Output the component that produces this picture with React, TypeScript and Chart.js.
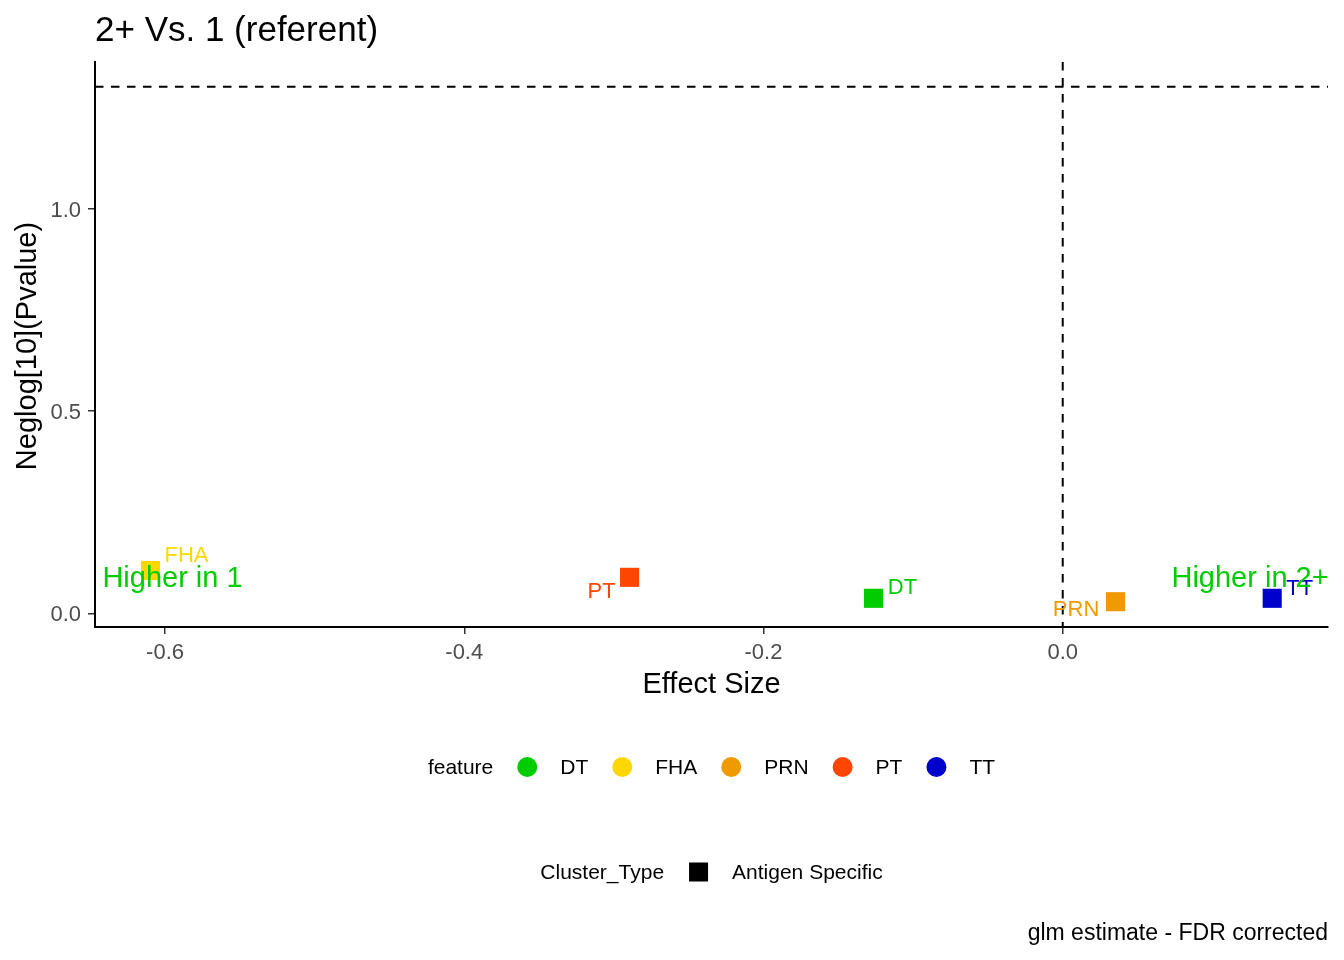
import React, { useEffect, useRef } from 'react';
import { Chart, registerables } from 'chart.js';

Chart.register(...registerables);

// data
const features = ['DT', 'FHA', 'PRN', 'PT', 'TT'];
const featureColors = ['#00CD00', '#FFD700', '#EE9A00', '#FF4500', '#0000CD'];
const effectSize = [-0.1265, -0.6097, 0.0353, -0.2895, 0.14];
const negLogP = [0.0371, 0.1057, 0.0287, 0.0889, 0.0371];
const xTicks = [-0.6, -0.4, -0.2, 0.0];
const yTicks = [0.0, 0.5, 1.0];
const sigThreshold = -Math.log10(0.05);
const directionNotes = ['Higher in 1', 'Higher in 2+'];
const directionNoteX = [-0.595, 0.1252];
const directionNoteY = [0.085, 0.085];
const clusterTypes = ['Antigen Specific'];

// styling: label offsets (px) from each point, in features order
const labelOffsets = [[29, -10], [36, -14.5], [-39.5, 8], [-28, 14.5], [27.5, -9.5]];

const X_MIN = -0.6468;
const X_MAX = 0.1773;
const Y_MIN = -0.0338;
const Y_MAX = 1.362;
const FONT = '"Liberation Sans", Arial, sans-serif';

const fmt = (v: number) => (Math.abs(v) < 1e-9 ? '0.0' : Number(v).toFixed(1));

const decor = {
  id: 'decor',
  beforeDatasetsDraw(chart: any) {
    const { ctx, chartArea: a, scales } = chart;
    ctx.save();
    ctx.strokeStyle = '#000';
    ctx.lineWidth = 2;
    ctx.setLineDash([8.5, 7.5]);
    const yy = scales.y.getPixelForValue(sigThreshold);
    ctx.beginPath();
    ctx.moveTo(a.left, yy);
    ctx.lineTo(a.right, yy);
    ctx.stroke();
    const xx = scales.x.getPixelForValue(0);
    ctx.beginPath();
    ctx.moveTo(xx, a.top);
    ctx.lineTo(xx, a.bottom);
    ctx.stroke();
    ctx.restore();
  },
  afterDatasetsDraw(chart: any) {
    const { ctx, scales } = chart;
    ctx.save();
    ctx.textAlign = 'center';
    ctx.textBaseline = 'middle';
    ctx.font = `22px ${FONT}`;
    features.forEach((f, i) => {
      const px = scales.x.getPixelForValue(effectSize[i]) + labelOffsets[i][0];
      const py = scales.y.getPixelForValue(negLogP[i]) + labelOffsets[i][1];
      ctx.fillStyle = featureColors[i];
      ctx.fillText(f, px, py);
    });
    ctx.font = `29px ${FONT}`;
    ctx.fillStyle = '#00CD00';
    directionNotes.forEach((t, i) => {
      ctx.fillText(t, scales.x.getPixelForValue(directionNoteX[i]), scales.y.getPixelForValue(directionNoteY[i]));
    });
    ctx.restore();
  },
  afterDraw(chart: any) {
    const { ctx, chartArea: a } = chart;
    const cx = (a.left + a.right) / 2;
    ctx.save();
    ctx.fillStyle = '#000';

    // title
    ctx.font = `35px ${FONT}`;
    ctx.textAlign = 'left';
    ctx.textBaseline = 'alphabetic';
    ctx.fillText('2+ Vs. 1 (referent)', a.left, 41);

    // axis titles
    ctx.font = `29px ${FONT}`;
    ctx.textAlign = 'center';
    ctx.textBaseline = 'middle';
    ctx.fillText('Effect Size', cx, 685);
    ctx.save();
    ctx.translate(28, 346);
    ctx.rotate(-Math.PI / 2);
    ctx.fillText('Neglog[10](Pvalue)', 0, 0);
    ctx.restore();

    // feature legend
    ctx.font = `21px ${FONT}`;
    ctx.textAlign = 'left';
    const r = 10;
    const gap = 24;
    const labW = features.map((f) => ctx.measureText(f).width);
    const titleW = ctx.measureText('feature').width;
    const total = titleW + labW.reduce((s, w) => s + gap + 2 * r + 23 + w, 0);
    let lx = cx - total / 2;
    const ly = 768;
    ctx.fillText('feature', lx, ly);
    lx += titleW;
    features.forEach((f, i) => {
      lx += gap + r;
      ctx.fillStyle = featureColors[i];
      ctx.beginPath();
      ctx.arc(lx, ly - 1, r, 0, Math.PI * 2);
      ctx.fill();
      lx += r + 23;
      ctx.fillStyle = '#000';
      ctx.fillText(f, lx, ly);
      lx += labW[i];
    });

    // cluster type legend
    const s = 19;
    const ctW = ctx.measureText('Cluster_Type').width;
    const asW = ctx.measureText(clusterTypes[0]).width;
    const total2 = ctW + 25 + s + 24 + asW;
    let kx = cx - total2 / 2;
    const ky = 873;
    ctx.fillText('Cluster_Type', kx, ky);
    kx += ctW + 25;
    ctx.fillRect(kx, ky - 1 - s / 2, s, s);
    kx += s + 24;
    ctx.fillText(clusterTypes[0], kx, ky);

    // caption
    ctx.font = `23px ${FONT}`;
    ctx.textAlign = 'right';
    ctx.fillText('glm estimate - FDR corrected', a.right, 934);
    ctx.restore();
  },
};

const App: React.FC = () => {
  const canvasRef = useRef<HTMLCanvasElement>(null);
  const chartRef = useRef<Chart | null>(null);

  useEffect(() => {
    if (!canvasRef.current) return;
    if (chartRef.current) chartRef.current.destroy();
    const ctx = canvasRef.current.getContext('2d');
    if (!ctx) return;

    chartRef.current = new Chart(ctx, {
      type: 'scatter',
      data: {
        datasets: [
          {
            label: 'feature',
            data: effectSize.map((x, i) => ({ x, y: negLogP[i] })),
            backgroundColor: featureColors,
            borderWidth: 0,
            pointStyle: 'rect',
            pointRadius: 13.5,
            pointHoverRadius: 13.5,
          },
        ],
      },
      options: {
        responsive: false,
        animation: false,
        devicePixelRatio: 1,
        layout: { padding: { top: 62, right: 16, left: 0, bottom: 0 } },
        plugins: { legend: { display: false }, tooltip: { enabled: false } },
        events: [],
        scales: {
          x: {
            type: 'linear',
            min: X_MIN,
            max: X_MAX,
            afterBuildTicks: (s: any) => {
              s.ticks = xTicks.map((v) => ({ value: v }));
            },
            afterFit: (s: any) => {
              s.height = 333;
            },
            ticks: {
              font: { family: FONT, size: 22 },
              color: '#4D4D4D',
              padding: 6,
              callback: (v: any) => fmt(Number(v)),
            },
            grid: { drawOnChartArea: false, drawTicks: true, tickLength: 7, color: '#333333', lineWidth: 1.5 },
            border: { display: true, color: '#000', width: 2 },
          },
          y: {
            type: 'linear',
            min: Y_MIN,
            max: Y_MAX,
            afterBuildTicks: (s: any) => {
              s.ticks = yTicks.map((v) => ({ value: v }));
            },
            afterFit: (s: any) => {
              s.width = 95;
            },
            ticks: {
              font: { family: FONT, size: 22 },
              color: '#4D4D4D',
              padding: 7,
              labelOffset: 2,
              callback: (v: any) => fmt(Number(v)),
            },
            grid: { drawOnChartArea: false, drawTicks: true, tickLength: 7, color: '#333333', lineWidth: 1.5 },
            border: { display: true, color: '#000', width: 2 },
          },
        },
      },
      plugins: [decor],
    });

    return () => {
      if (chartRef.current) {
        chartRef.current.destroy();
        chartRef.current = null;
      }
    };
  }, []);

  return (
    <div style={{ position: 'fixed', left: 0, top: 0, width: 1344, height: 960, background: '#fff' }}>
      <canvas ref={canvasRef} width={1344} height={960} />
    </div>
  );
};

export default App;
